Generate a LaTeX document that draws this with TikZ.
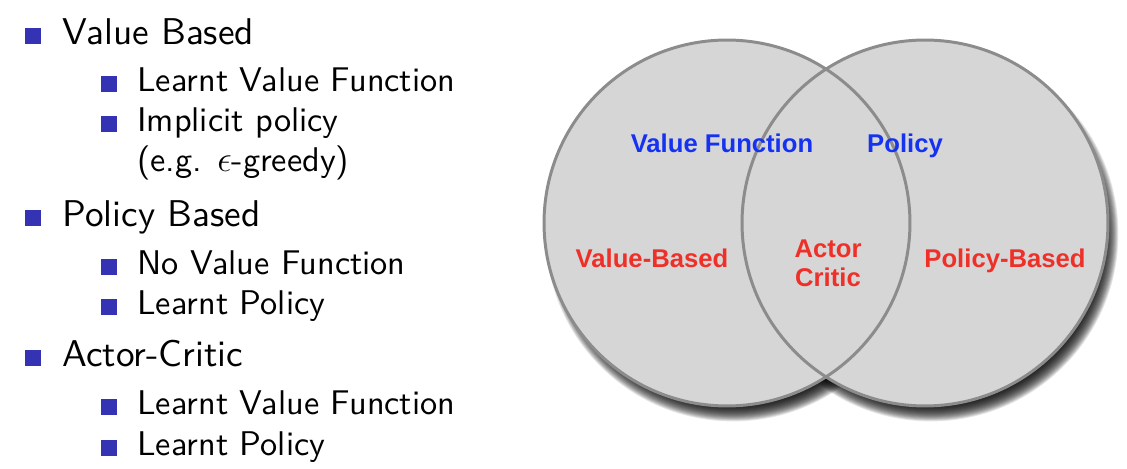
\documentclass[tikz,border=0pt]{standalone}
\usepackage{fontspec}
\setsansfont{lmsans10-regular.otf}
\newfontfamily\vennfont{Liberation Sans}
\usetikzlibrary{positioning, calc}

\definecolor{bulletblue}{RGB}{51,51,179}
\definecolor{vennfill}{RGB}{214,214,214}
\definecolor{vennrim}{RGB}{140,140,140}
\definecolor{labelblue}{RGB}{20,50,240}
\definecolor{labelred}{RGB}{238,48,40}

\begin{document}
\begin{tikzpicture}[
        x=0.02cm, y=-0.02cm,
        topbullet/.style={rectangle, fill=bulletblue, minimum size=17*0.567pt, inner sep=0pt},
        subbullet/.style={rectangle, fill=bulletblue, minimum size=16*0.567pt, inner sep=0pt},
        topitem/.style={anchor=base west, inner sep=0pt, font=\sffamily\fontsize{21.2}{25}\selectfont},
        subitem/.style={anchor=base west, inner sep=0pt, font=\sffamily\fontsize{19.5}{23}\selectfont},
        venn/.style={circle, fill=vennfill, minimum size=7.32cm, inner sep=0pt},
        rim/.style={draw=vennrim, line width=1.7pt},
        vennlabel/.style={font=\vennfont\bfseries\fontsize{14.6}{17}\selectfont, align=center, inner sep=0pt},
    ]
    \useasboundingbox (0,0) rectangle (1127,469);

        % Top level items
        \foreach \name/\y/\txt in {vb/45/Value Based, pb/227/Policy Based, ac/367/Actor-Critic} {
            \node[topbullet] (B-\name) at (33,\y-9) {};
            \node[topitem] (T-\name) at (62,\y) {\txt};
        }

        % Second level items
        \foreach \name/\y/\txt in {lvf1/92/Learnt Value Function, ip/132/Implicit policy,
                                    nvf/275/No Value Function, lp1/315/Learnt Policy,
                                    lvf2/415/Learnt Value Function, lp2/456/Learnt Policy} {
            \node[subbullet] (B-\name) at (109,\y-8) {};
            \node[subitem] (T-\name) at (137,\y) {\txt};
        }
        \node[subitem] (T-eg) at (137,172) {(e.g. $\epsilon$-greedy)};

        % Draw the two sets, with a soft shadow below them
        \coordinate (C-vb) at (727,223);
        \coordinate (C-pb) at (925,223);
        \foreach \c in {vb,pb}
            \foreach \k in {0,...,19}
                \fill[black, opacity=0.1] ($(C-\c)+(6,11)$) circle[radius={(171+0.9*\k)*0.567pt}];
        \node[venn] (S-vb) at (C-vb) {};
        \node[venn] (S-pb) at (C-pb) {};
        \foreach \c in {vb,pb}
            \draw[rim] (C-\c) circle[radius=3.66cm];

        % Labels of the sets
        \node[vennlabel, text=labelblue, anchor=base] (L-vf) at (722,153) {Value Function};
        \node[vennlabel, text=labelblue, anchor=base] (L-pol) at (905,153) {Policy};
        \node[vennlabel, text=labelred, anchor=base] (L-vb) at (652,268) {Value-Based};
        \node[vennlabel, text=labelred, anchor=base] (L-pb) at (1005,268) {Policy-Based};
        \node[vennlabel, text=labelred, anchor=base] (L-ac) at (828,287) {Actor\\Critic};
    \end{tikzpicture}
\end{document}
